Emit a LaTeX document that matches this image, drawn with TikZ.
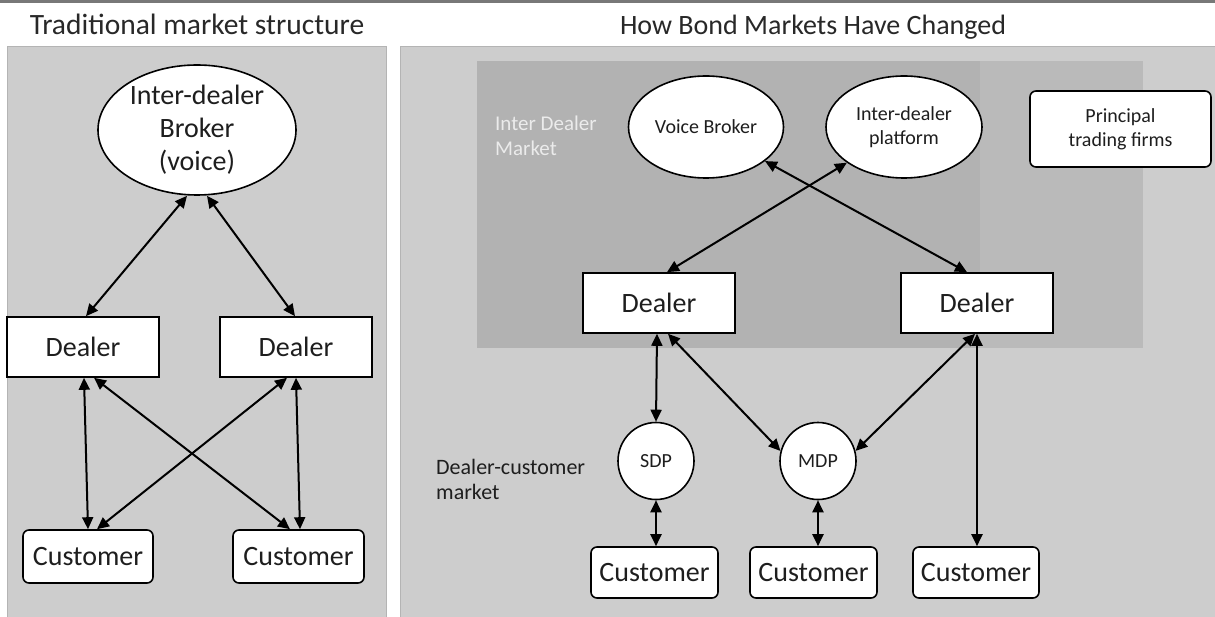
\documentclass[tikz,border=0pt]{standalone}
\usepackage{fontspec}
\setmainfont{Carlito}
\usetikzlibrary{arrows.meta,shapes.geometric}
\definecolor{panelbg}{RGB}{205,205,205}
\definecolor{panelbd}{RGB}{180,180,180}
\definecolor{darkbg}{RGB}{178,178,178}
\definecolor{bandbg}{RGB}{186,186,186}
\definecolor{txt}{RGB}{30,30,30}
\definecolor{ghost}{RGB}{235,235,235}
\tikzset{
  boxnode/.style={draw=black, line width=1.6pt, fill=white, inner sep=0pt, text=txt},
  sqbox/.style={boxnode, rectangle},
  rndbox/.style={boxnode, rectangle, rounded corners=6pt},
  ellnode/.style={boxnode, ellipse},
  link/.style={line width=2pt, {Triangle[length=12pt,width=11pt]}-{Triangle[length=12pt,width=11pt]}},
  big/.style={font=\fontsize{28}{33}\selectfont},
  small/.style={font=\fontsize{20}{24}\selectfont},
}
\begin{document}
\begin{tikzpicture}[x=1pt,y=-1pt]
\useasboundingbox (0,0) rectangle (1215,617);
\fill[white] (0,0) rectangle (1215,617);
% top rule
\draw[line width=3pt, color={rgb,255:red,120;green,120;blue,120}] (0,1.5) -- (1215,1.5);
% titles
\node[font=\fontsize{29.5}{33}\selectfont, text={rgb,255:red,40;green,40;blue,40}, anchor=base] (t1) at (197,35) {Traditional market structure};
\node[big, text={rgb,255:red,40;green,40;blue,40}, anchor=base] (t2) at (813,35) {How Bond Markets Have Changed};
% panels
\fill[panelbg] (7,46) rectangle (387,617);
\draw[panelbd, line width=1pt] (7.5,617) -- (7.5,46.5) -- (386.5,46.5) -- (386.5,617);
\fill[panelbg] (400,46) rectangle (1215,617);
\draw[panelbd, line width=1pt] (400.5,617) -- (400.5,46.5) -- (1215,46.5);
\fill[darkbg] (477,61) rectangle (1143,348);
\fill[bandbg] (980,61) rectangle (1143,348);

% ---------- left diagram ----------
\node[ellnode, big, align=center, minimum width=198, minimum height=130] (idb) at (197,130) {Inter-dealer\\Broker\\(voice)};
\node[sqbox, big, minimum width=152, minimum height=60] (ld1) at (83,347) {Dealer};
\node[sqbox, big, minimum width=152, minimum height=60] (ld2) at (296,347) {Dealer};
\node[rndbox, big, minimum width=130, minimum height=53] (lc1) at (88,556.5) {Customer};
\node[rndbox, big, minimum width=131, minimum height=53] (lc2) at (298.5,556.5) {Customer};

\draw[link] ([xshift=-10pt]idb.south) -- ([xshift=3pt]ld1.north);
\draw[link] ([xshift=10pt]idb.south) -- ([xshift=-1pt]ld2.north);
\draw[link] ([xshift=1pt]ld1.south) -- (lc1.north);
\draw[link] ([xshift=11pt]ld1.south) -- ([xshift=-8.5pt]lc2.north);
\draw[link] ([xshift=-9pt]ld2.south) -- ([xshift=9pt]lc1.north);
\draw[link] (ld2.south) -- ([xshift=1.5pt]lc2.north);

% ---------- right diagram ----------
\node[text=ghost, font=\fontsize{21}{25}\selectfont, align=left, anchor=north west, inner sep=0pt] (idm) at (495,116) {Inter Dealer\\Market};
\node[ellnode, small, minimum width=155, minimum height=102] (vb) at (706,127) {Voice Broker};
\node[ellnode, small, align=center, minimum width=156, minimum height=102] (idp) at (904,127) {Inter-dealer\\platform};
\node[rndbox, small, align=center, minimum width=181, minimum height=76] (ptf) at (1120.5,129) {Principal\\trading firms};
\node[sqbox, big, minimum width=152, minimum height=60] (rd1) at (659,303) {Dealer};
\node[sqbox, big, minimum width=152, minimum height=60] (rd2) at (977,303) {Dealer};
\node[ellnode, small, minimum width=76, minimum height=77] (sdp) at (656,461) {SDP};
\node[ellnode, small, minimum width=76, minimum height=77] (mdp) at (818,461) {MDP};
\node[text=txt, font=\fontsize{22}{25}\selectfont, align=left, anchor=north west, inner sep=0pt] (dcm) at (436,459) {Dealer-customer\\market};
\node[rndbox, big, minimum width=127, minimum height=51] (rc1) at (654.5,572.5) {Customer};
\node[rndbox, big, minimum width=127, minimum height=51] (rc2) at (813.5,572.5) {Customer};
\node[rndbox, big, minimum width=126, minimum height=51] (rc3) at (976,572.5) {Customer};

\draw[link] (vb.-30) -- ([xshift=-10pt]rd2.north);
\draw[link] (idp.212) -- ([xshift=8pt]rd1.north);
\draw[link] ([xshift=-2pt]rd1.south) -- (sdp.north);
\draw[link] ([xshift=9pt]rd1.south) -- (mdp.165);
\draw[link] ([xshift=-2pt]rd2.south) -- (mdp.15);
\draw[link] (rd2.south) -- ([xshift=1pt]rc3.north);
\draw[link] (sdp.south) -- ([xshift=1.5pt]rc1.north);
\draw[link] (mdp.south) -- ([xshift=4.5pt]rc2.north);
\end{tikzpicture}
\end{document}
